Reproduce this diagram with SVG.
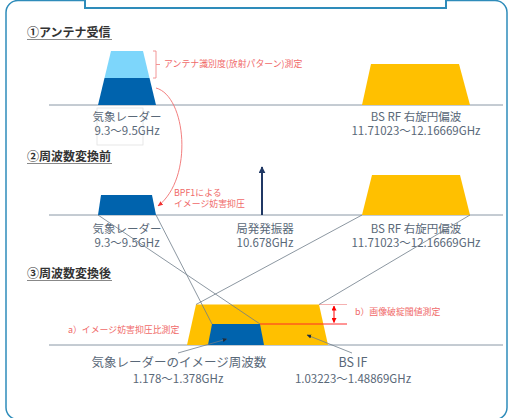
<svg xmlns="http://www.w3.org/2000/svg" width="509" height="418" viewBox="0 0 509 418">
<style>
.h{font-family:"Noto Sans CJK JP","Noto Sans",sans-serif;font-size:12px;font-weight:bold;fill:#333}
.lb{font-family:"Noto Sans CJK JP","Noto Sans",sans-serif;font-size:11.5px;fill:#596878;text-anchor:middle}
.lb2{font-family:"Noto Sans CJK JP","Noto Sans",sans-serif;font-size:12.5px;fill:#596878;text-anchor:middle}
.rt{font-family:"Noto Sans CJK JP","Noto Sans",sans-serif;font-size:8.9px;fill:#f06a6a}
.ax{stroke:#8a98a6;stroke-width:1;fill:none}
.cn{stroke:#6f7c89;stroke-width:0.8;fill:none}
.ul{stroke:#888;stroke-width:1}
.yel{fill:#ffc000}
.blu{fill:#0063ad}
.lbl{fill:#7dd6fb}
</style>
<defs>
<marker id="ar" viewBox="0 0 10 10" refX="9" refY="5" markerWidth="6" markerHeight="6" orient="auto"><path d="M0,1 L10,5 L0,9 z" fill="#f03030"/></marker>
<marker id="ars" viewBox="0 0 10 10" refX="9" refY="5" markerWidth="5" markerHeight="5" orient="auto-start-reverse"><path d="M0,0 L10,5 L0,10 z" fill="#f00"/></marker>
<marker id="ad" viewBox="0 0 10 10" refX="9" refY="5" markerWidth="6" markerHeight="6" orient="auto"><path d="M0,1 L10,5 L0,9 z" fill="#1f2d3d"/></marker>
<marker id="alo" viewBox="0 0 10 10" refX="9" refY="5" markerWidth="3.5" markerHeight="3.5" orient="auto"><path d="M0,0 L10,5 L0,10 z" fill="#203864"/></marker>
</defs>
<rect width="509" height="418" fill="#fff"/>
<rect x="6" y="0.5" width="501" height="419" rx="12" fill="none" stroke="#2e8cba" stroke-width="1.5"/>
<rect x="85" y="-5" width="361" height="13" fill="#fff" stroke="#2e8cba" stroke-width="2"/>

<g id="headings">
<text class="h" x="27" y="37">①アンテナ受信</text><line class="ul" x1="27" y1="39.5" x2="112" y2="39.5"/>
<text class="h" x="27" y="161">②周波数変換前</text><line class="ul" x1="27" y1="163.5" x2="112" y2="163.5"/>
<text class="h" x="27" y="278">③周波数変換後</text><line class="ul" x1="27" y1="280.5" x2="112" y2="280.5"/>
</g>

<g id="axes">
<line class="ax" x1="49" y1="105" x2="503" y2="105"/>
<line class="ax" x1="49" y1="215" x2="503" y2="215"/>
<line class="ax" x1="49" y1="345" x2="503" y2="345"/>
</g>

<g id="radar1">
<rect x="97" y="108" width="46" height="37" fill="none" stroke="#e2e2e2" stroke-width="0.8"/>
<polygon class="lbl" points="111,51 143,51 149.5,78 104.5,78"/>
<polygon class="blu" points="104.5,78 149.5,78 156,105 98,105"/>
<text class="lb" x="127" y="120.5">気象レーダー</text>
<text class="lb" x="127" y="134.5">9.3〜9.5GHz</text>
</g>

<g id="bracket1">
<path d="M153,51 H156 V78 H153 M156,64.5 H160" fill="none" stroke="#f08a8a" stroke-width="0.9"/>
<text class="rt" x="164" y="67">アンテナ識別度(放射パターン)測定</text>
</g>

<g id="bsrf1">
<polygon class="yel" points="371,64 459,64 470,105 362,105"/>
<text class="lb" x="416" y="120.5">BS RF 右旋円偏波</text>
<text class="lb" x="416" y="134.5">11.71023〜12.16669GHz</text>
</g>

<g id="radar2">
<polygon class="blu" points="101,195 152,195 156,215 98,215"/>
<text class="lb" x="127" y="232.5">気象レーダー</text>
<text class="lb" x="127" y="246.5">9.3〜9.5GHz</text>
</g>

<g id="bpf">
<text class="rt" x="174" y="196">BPF1による</text>
<text class="rt" x="174" y="207">イメージ妨害抑圧</text>
</g>

<g id="lo">
<line x1="262" y1="215" x2="262" y2="167" stroke="#203864" stroke-width="2" marker-end="url(#alo)"/>
<text class="lb" x="265" y="232.5">局発発振器</text>
<text class="lb" x="265" y="246.5">10.678GHz</text>
</g>

<g id="bsrf2">
<polygon class="yel" points="372,175 460,175 470,215 362,215"/>
<text class="lb" x="416" y="232.5">BS RF 右旋円偏波</text>
<text class="lb" x="416" y="246.5">11.71023〜12.16669GHz</text>
</g>

<g id="bsif">
<polygon class="yel" points="196,304.5 319,304.5 328,345 187,345"/>
<text class="lb2" x="353" y="366.5">BS IF</text>
<text class="lb" x="353" y="382.5">1.03223〜1.48869GHz</text>
</g>

<g id="image">
<polygon class="blu" points="212,324 260,324 264,345 208,345"/>
<text class="lb2" x="179" y="366.5">気象レーダーのイメージ周波数</text>
<text class="lb" x="178" y="382.5">1.178〜1.378GHz</text>
</g>

<g id="measure">
<line x1="319" y1="304.5" x2="347" y2="304.5" stroke="#f4a8a8" stroke-width="0.9"/>
<line x1="260" y1="324" x2="347" y2="324" stroke="#ff2a2a" stroke-width="1"/>
<line x1="334" y1="306" x2="334" y2="322.5" stroke="#f00" stroke-width="1" marker-start="url(#ars)" marker-end="url(#ars)"/>
<text class="rt" x="355" y="315">b）画像破綻閾値測定</text>
<text class="rt" x="68" y="333">a）イメージ妨害抑圧比測定</text>
</g>

<g id="connectors">
<path d="M156,88 C186,96 194,178 158,206" fill="none" stroke="#f07070" stroke-width="0.9" marker-end="url(#ar)"/>
<line class="cn" x1="156" y1="215" x2="212" y2="324"/>
<line class="cn" x1="98" y1="215" x2="260" y2="324"/>
<line class="cn" x1="362" y1="215" x2="196" y2="304.5"/>
<line class="cn" x1="470" y1="215" x2="319" y2="304.5"/>
<line class="cn" x1="178" y1="353" x2="227" y2="339" stroke="#3a4a5a" marker-end="url(#ad)"/>
<line class="cn" x1="352" y1="353" x2="307" y2="335" stroke="#3a4a5a" marker-end="url(#ad)"/>
</g>
</svg>
